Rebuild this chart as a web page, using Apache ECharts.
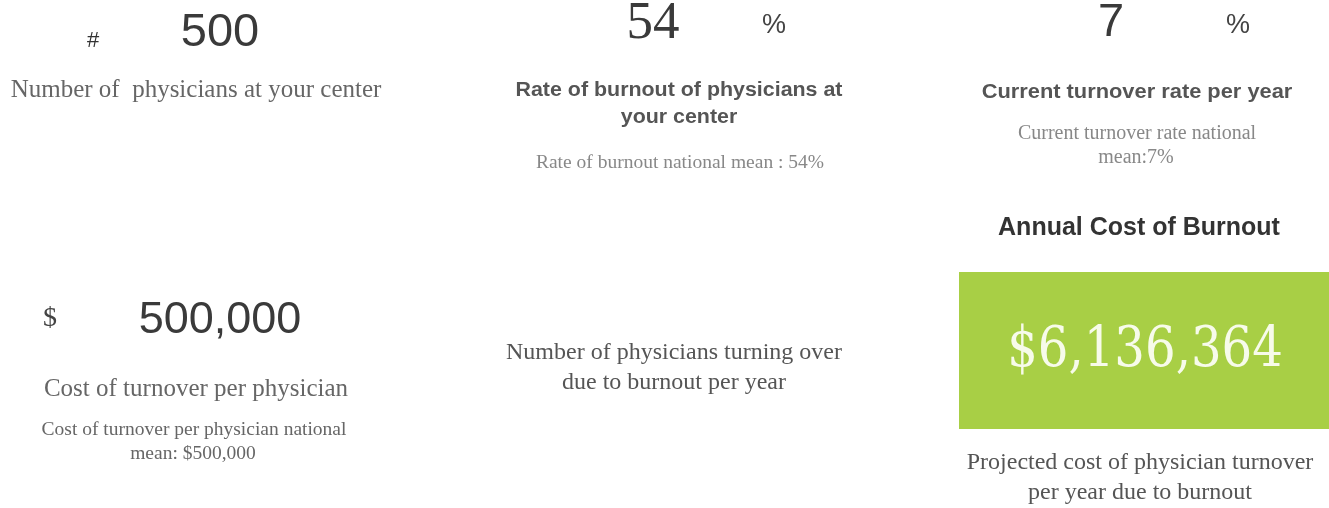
<!DOCTYPE html>
<html><head><meta charset="utf-8">
<script src="https://cdn.jsdelivr.net/npm/echarts@6/dist/echarts.min.js"></script>
<style>html,body{margin:0;padding:0;background:#fff}#c{width:1329px;height:508px}</style>
</head><body><div id="c"></div>
<script>
// ---- data ----
const metricPrefixes = ['#', '', '', '$'];
const metricValues = [500, 54, 7, 500000];
const metricSuffixes = ['', '%', '%', ''];
const metricLabels = [
  ['Number of  physicians at your center'],
  ['Rate of burnout of physicians at', 'your center'],
  ['Current turnover rate per year'],
  ['Cost of turnover per physician']
];
const nationalNotes = [
  [],
  ['Rate of burnout national mean : 54%'],
  ['Current turnover rate national', 'mean:7%'],
  ['Cost of turnover per physician national', 'mean: $500,000']
];
const turnoverLabel = ['Number of physicians turning over', 'due to burnout per year'];
const annualTitle = 'Annual Cost of Burnout';
const annualCost = 6136364;
const annualLabel = ['Projected cost of physician turnover', 'per year due to burnout'];

function fmt(v){ return v.toLocaleString('en-US'); }

const SANS = '"Liberation Sans", Arial, sans-serif';
const SERIF = '"Liberation Serif", "Times New Roman", serif';
const g = [];
function txt(s, x, y, size, family, fill, weight, sx){
  g.push({type:'text', x:x, y:y, scaleX: sx||1, style:{text:s, x:0, y:0, fontSize:size, fontFamily:family, fontWeight:weight||'normal', fill:fill, align:'center', verticalAlign:'middle'}});
}

// panel 1
txt(metricPrefixes[0], 93, 41, 22, SANS, '#333');
txt(fmt(metricValues[0]), 220, 33, 47, SANS, '#3a3a3a');
txt(metricLabels[0][0], 196, 90, 25, SERIF, '#666');
// panel 2
txt(fmt(metricValues[1]), 653, 24, 53, SERIF, '#3a3a3a');
txt(metricSuffixes[1], 774, 26, 27, SANS, '#444');
txt(metricLabels[1][0], 679, 90, 20, SANS, '#555', 'bold', 1.07);
txt(metricLabels[1][1], 679, 117, 20, SANS, '#555', 'bold', 1.07);
txt(nationalNotes[1][0], 680, 163, 19.5, SERIF, '#888');
// panel 3
txt(fmt(metricValues[2]), 1111, 23, 47, SANS, '#3a3a3a');
txt(metricSuffixes[2], 1238, 26, 27, SANS, '#444');
txt(metricLabels[2][0], 1137, 92, 21, SANS, '#555', 'bold', 1.04);
txt(nationalNotes[2][0], 1137, 134, 20, SERIF, '#888');
txt(nationalNotes[2][1], 1136, 158, 20, SERIF, '#888');
// panel 4
txt(metricPrefixes[3], 50, 319, 28, SERIF, '#444');
txt(fmt(metricValues[3]), 220, 321, 45, SANS, '#3a3a3a');
txt(metricLabels[3][0], 196, 389, 25, SERIF, '#666');
txt(nationalNotes[3][0], 194, 430, 19.5, SERIF, '#666');
txt(nationalNotes[3][1], 193, 454, 19.5, SERIF, '#666');
// panel 5
txt(turnoverLabel[0], 674, 353, 24, SERIF, '#555');
txt(turnoverLabel[1], 674, 383, 24, SERIF, '#555');
// panel 6
txt(annualTitle, 1139, 228, 25, SANS, '#333', 'bold');
g.push({type:'rect', shape:{x:959, y:272, width:370, height:157}, style:{fill:'#a8cf45'}});
txt('$' + fmt(annualCost), 1145, 351, 56, '"DejaVu Serif", serif', '#f7fbea', 'normal', 0.86);
txt(annualLabel[0], 1140, 463, 24, SERIF, '#555');
txt(annualLabel[1], 1140, 493, 24, SERIF, '#555');

const chart = echarts.init(document.getElementById('c'));
chart.setOption({animation:false, graphic:{elements:g}});
</script></body></html>
